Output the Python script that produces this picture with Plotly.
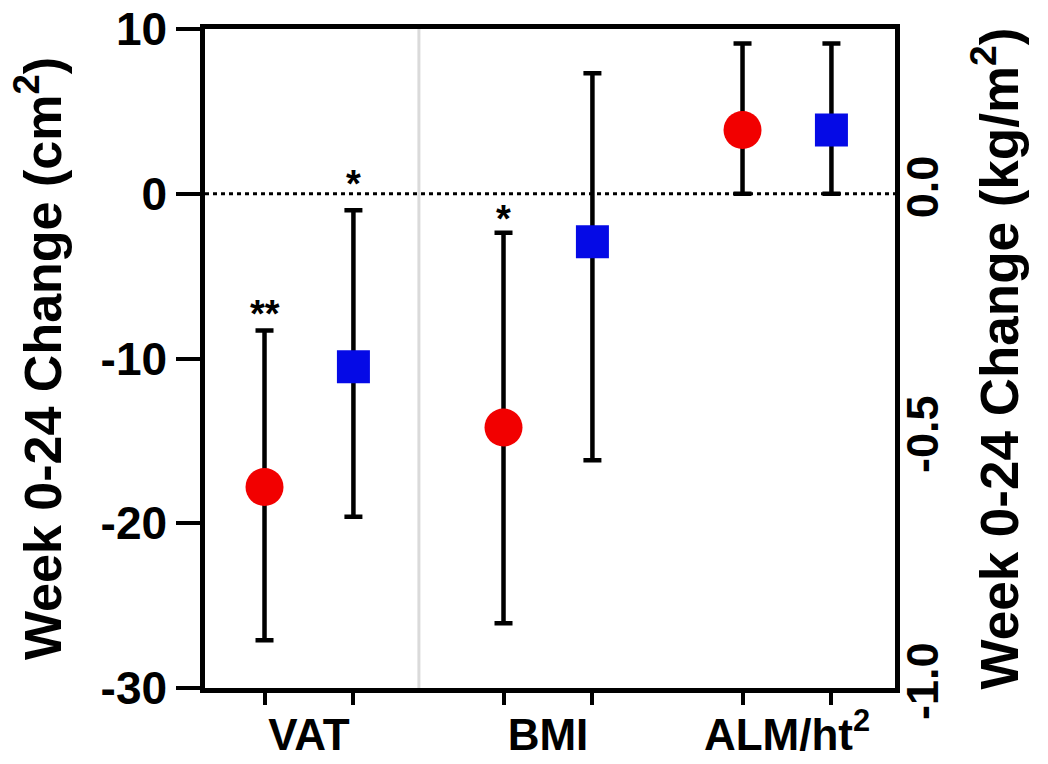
import plotly.graph_objects as go

# Week 0-24 change: point estimate with 95% CI
categories = ["VAT", "BMI", "ALM/ht<sup>2</sup>"]
cat_pos = [0, 1, 2]
pair_offset = 0.186

# VAT on left axis (cm^2)
vat_mean = [-17.8, -10.5]
vat_lo = [-27.1, -19.6]
vat_hi = [-8.3, -1.0]

# BMI and ALM/ht^2 on right axis (kg/m^2)
bmi_mean = [-0.473, -0.097]
bmi_lo = [-0.869, -0.539]
bmi_hi = [-0.079, 0.244]
alm_mean = [0.129, 0.129]
alm_lo = [0.0, 0.0]
alm_hi = [0.304, 0.304]

# significance marks: (category, member of pair, top of CI, text, axis, pixel lift)
stars = [(0, 0, -8.3, "**", "y", -7), (0, 1, -1.0, "*", "y", 3), (1, 0, -0.079, "*", "y2", -9)]

left_ticks = [-30, -20, -10, 0, 10]
left_ticktext = ["-30", "-20", "-10", "0", "10"]
right_ticks = [-1.0, -0.5, 0.0]
right_ticktext = ["-1.0", "-0.5", "0.0"]

RED = "rgb(242,0,0)"
BLUE = "rgb(5,10,230)"
FONT = "Liberation Sans, Arial, sans-serif"
styles = [dict(symbol="circle", size=38, color=RED), dict(symbol="square", size=33, color=BLUE)]

fig = go.Figure()


def pair_x(c):
    return [cat_pos[c] - pair_offset, cat_pos[c] + pair_offset]


def add_points(c, mean, lo, hi, yaxis):
    xs = pair_x(c)
    for i in range(2):
        fig.add_trace(go.Scatter(
            x=[xs[i]], y=[mean[i]], mode="markers", yaxis=yaxis,
            marker=dict(**styles[i], line=dict(width=0)),
            error_y=dict(type="data", symmetric=False,
                         array=[hi[i] - mean[i]], arrayminus=[mean[i] - lo[i]],
                         color="black", thickness=4.5, width=9),
            showlegend=False, cliponaxis=False,
        ))


add_points(0, vat_mean, vat_lo, vat_hi, "y")
add_points(1, bmi_mean, bmi_lo, bmi_hi, "y2")
add_points(2, alm_mean, alm_lo, alm_hi, "y2")

marker_x = [x for c in range(3) for x in pair_x(c)]
x_range = [-0.435, 2.452]

# zero reference line and divider between the two axis scales
fig.add_shape(type="line", xref="x", yref="y", x0=x_range[0], x1=x_range[1], y0=0, y1=0,
              line=dict(color="black", width=3, dash="4px,4px"), layer="below")
fig.add_shape(type="line", xref="x", yref="paper", x0=0.46, x1=0.46, y0=0, y1=1,
              line=dict(color="rgb(218,218,218)", width=3), layer="below")

for c, i, y, txt, ax, lift in stars:
    fig.add_annotation(x=pair_x(c)[i], y=y, xref="x", yref=ax, text=f"<b>{txt}</b>", showarrow=False,
                       yanchor="bottom", yshift=lift, font=dict(family=FONT, size=38, color="black"))

fig.update_layout(
    width=1048, height=764,
    margin=dict(l=205, r=153, t=29, b=76),
    plot_bgcolor="white", paper_bgcolor="white",
    font=dict(family=FONT, color="black"),
    xaxis=dict(
        range=x_range, showgrid=False, zeroline=False, automargin=False,
        showline=True, linecolor="black", linewidth=4.5, mirror=True,
        tickvals=cat_pos, ticktext=categories,
        ticks="outside", ticklen=4, tickcolor="rgba(0,0,0,0)",
        tickfont=dict(family=FONT, size=44, weight="bold"),
        minor=dict(tickvals=marker_x, ticks="outside", ticklen=12, tickwidth=4, tickcolor="black", showgrid=False),
    ),
    yaxis=dict(
        range=[-30, 10], tickvals=left_ticks, ticktext=left_ticktext,
        showgrid=False, zeroline=False, automargin=False,
        showline=True, linecolor="black", linewidth=4.5,
        ticks="outside", ticklen=24, tickwidth=4, tickcolor="black",
        tickfont=dict(family=FONT, size=46, weight="bold"),
        title=dict(text="Week 0-24 Change (cm<sup>2</sup>)", standoff=24,
                   font=dict(family=FONT, size=52, weight="bold")),
    ),
    yaxis2=dict(
        range=[-1.0, 1 / 3], overlaying="y", side="right", anchor="x",
        tickvals=right_ticks, ticktext=right_ticktext, tickangle=-90,
        showgrid=False, zeroline=False, automargin=False,
        showline=True, linecolor="black", linewidth=4.5,
        ticks="outside", ticklen=4, tickcolor="rgba(0,0,0,0)", ticklabelstandoff=-20,
        tickfont=dict(family=FONT, size=45, weight="bold"),
        title=dict(text="Week 0-24 Change (kg/m<sup>2</sup>)", standoff=36,
                   font=dict(family=FONT, size=53, weight="bold")),
    ),
)

fig.write_html("out.html")
